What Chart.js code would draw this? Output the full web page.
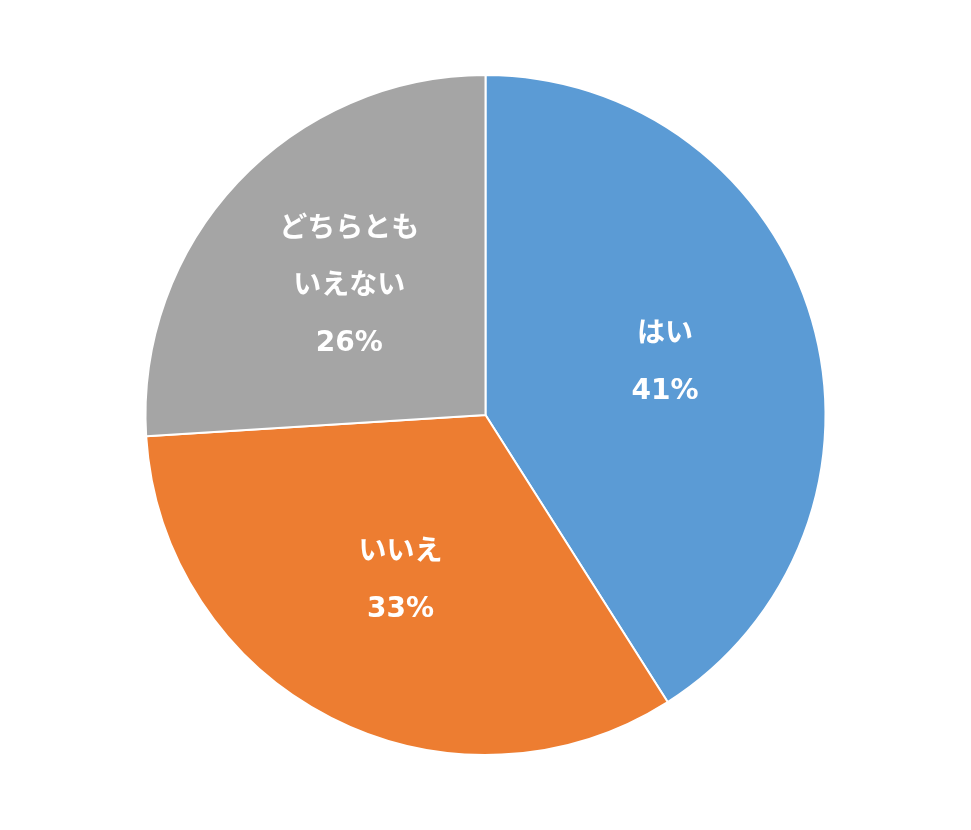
<!DOCTYPE html>
<html>
<head>
<meta charset="utf-8">
<script src="https://cdn.jsdelivr.net/npm/chart.js@4/dist/chart.umd.min.js"></script>
<style>
  html, body { margin: 0; padding: 0; background: #fff; }
  #wrap { width: 971px; height: 830px; }
</style>
</head>
<body>
<div id="wrap"><canvas id="grafico1"></canvas></div>
<script>
// データ
const categories = [['はい'], ['いいえ'], ['どちらとも', 'いえない']];
const values = [41, 33, 26];
const colors = ['#5B9BD5', '#ED7D31', '#A5A5A5'];

// ラベルを扇形の中に描く
const sliceLabels = {
  id: 'sliceLabels',
  afterDatasetsDraw(chart) {
    const c = chart.ctx;
    const meta = chart.getDatasetMeta(0);
    const total = values.reduce((a, b) => a + b, 0);
    c.save();
    c.fillStyle = '#fff';
    c.font = 'bold 28px "DejaVu Sans", "Noto Sans CJK JP", sans-serif';
    c.textAlign = 'center';
    c.textBaseline = 'middle';
    meta.data.forEach((arc, i) => {
      const p = arc.getProps(['x', 'y', 'startAngle', 'endAngle', 'outerRadius']);
      const mid = (p.startAngle + p.endAngle) / 2;
      const r = p.outerRadius * 0.55;
      const x = p.x + Math.cos(mid) * r;
      const y = p.y + Math.sin(mid) * r;
      const lines = categories[i].concat([Math.round(values[i] / total * 100) + '%']);
      const lh = 57;
      const top = y - (lines.length - 1) * lh / 2;
      lines.forEach((t, j) => c.fillText(t, x, top + j * lh));
    });
    c.restore();
  }
};

const ctx = document.getElementById('grafico1').getContext('2d');
new Chart(ctx, {
  type: 'pie',
  data: {
    labels: categories,
    datasets: [{
      data: values,
      backgroundColor: colors,
      borderColor: '#fff',
      borderWidth: 2
    }]
  },
  options: {
    responsive: true,
    maintainAspectRatio: false,
    animation: false,
    layout: { padding: { top: 74, bottom: 74 } },
    plugins: {
      legend: { display: false },
      tooltip: { enabled: false }
    }
  },
  plugins: [sliceLabels]
});
</script>
</body>
</html>
